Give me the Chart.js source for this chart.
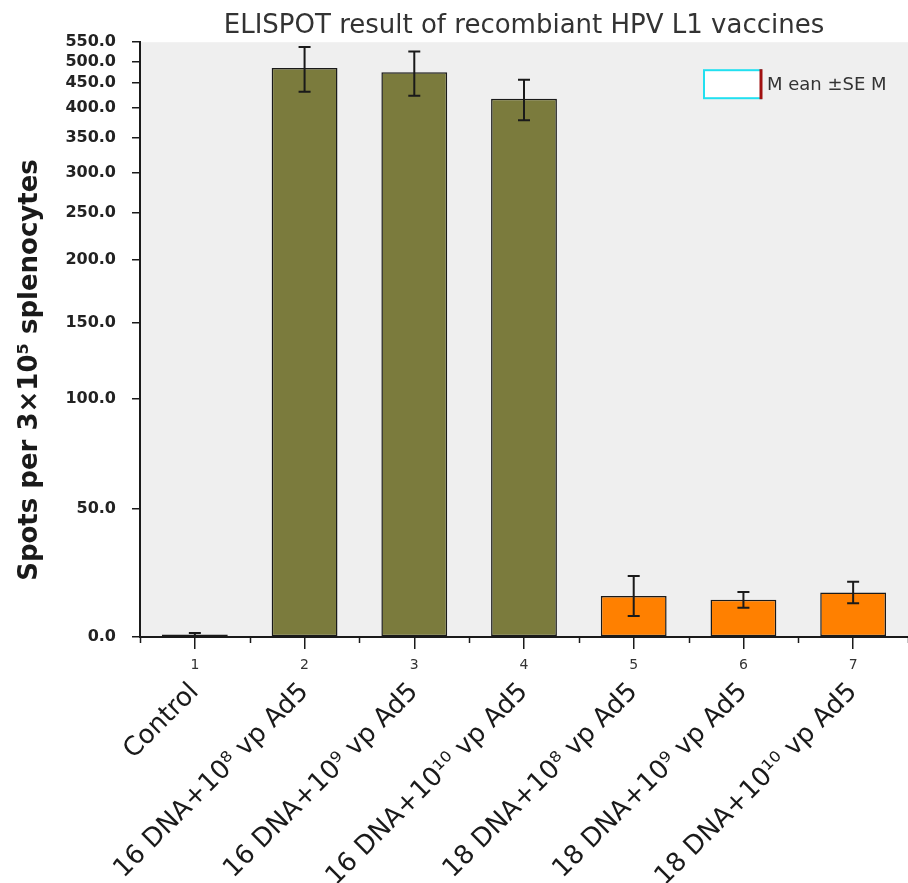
<!DOCTYPE html>
<html>
<head>
<meta charset="utf-8">
<script src="https://cdn.jsdelivr.net/npm/chart.js@4.4.1/dist/chart.umd.min.js"></script>
<style>
  html, body { margin: 0; padding: 0; background: #ffffff; }
  #wrap { width: 908px; height: 883px; }
</style>
</head>
<body>
<div id="wrap"><canvas id="c" width="908" height="883"></canvas></div>
<script>
// ---------- data ----------
const groupNames = ['Control', '16 DNA+10⁸ vp Ad5', '16 DNA+10⁹ vp Ad5', '16 DNA+10¹⁰ vp Ad5',
                    '18 DNA+10⁸ vp Ad5', '18 DNA+10⁹ vp Ad5', '18 DNA+10¹⁰ vp Ad5'];
const groupNumbers = ['1', '2', '3', '4', '5', '6', '7'];
const groupType = ['Control', 'HPV16', 'HPV16', 'HPV16', 'HPV18', 'HPV18', 'HPV18'];
const meanSpots = [1.0, 485, 475, 418, 16, 14.5, 17.4];
const semSpots = [0.6, 53, 51, 39, 7.8, 3.1, 4.2];
const yTickValues = [0, 50, 100, 150, 200, 250, 300, 350, 400, 450, 500, 550];
const chartTitle = 'ELISPOT result of recombiant HPV L1 vaccines';
const yAxisTitle = 'Spots per 3×10⁵ splenocytes';
const legendText = 'M ean ±SE M';

// ---------- styles ----------
const groupColors = { Control: '#7b7b3d', HPV16: '#7b7b3d', HPV18: '#ff8000' };
const inkColor = '#1a1a1a';

// ---------- non-linear (segmented) value axis, as in the original figure ----------
class SegmentedScale extends Chart.LinearScale {
  static id = 'segmented';
  static defaults = {};
  _decimalFor(value) {
    const seg = this.options.segments;
    const stops = seg.stops, w = seg.weights;
    let total = 0;
    for (let i = 0; i < w.length; i++) total += w[i];
    if (value <= stops[0]) return (value - stops[0]) / (stops[1] - stops[0]) * w[0] / total;
    let acc = 0;
    for (let i = 0; i < w.length; i++) {
      const a = stops[i], b = stops[i + 1];
      if (value <= b || i === w.length - 1) return (acc + (value - a) / (b - a) * w[i]) / total;
      acc += w[i];
    }
    return 1;
  }
  getPixelForValue(value) {
    if (value === null || value === undefined || isNaN(value)) return NaN;
    return this.getPixelForDecimal(this._decimalFor(+value));
  }
  getValueForPixel(pixel) {
    const d = this.getDecimalForPixel(pixel);
    const seg = this.options.segments;
    const stops = seg.stops, w = seg.weights;
    let total = 0;
    for (let i = 0; i < w.length; i++) total += w[i];
    let acc = 0;
    for (let i = 0; i < w.length; i++) {
      const f0 = acc / total, f1 = (acc + w[i]) / total;
      if (d <= f1 || i === w.length - 1) return stops[i] + (d - f0) / (f1 - f0) * (stops[i + 1] - stops[i]);
      acc += w[i];
    }
    return stops[stops.length - 1];
  }
}
Chart.register(SegmentedScale);

// ---------- plugins ----------
const backgroundPlugin = {
  id: 'plotBackground',
  beforeDraw(chart) {
    const { ctx, chartArea: a } = chart;
    ctx.save();
    ctx.fillStyle = '#ffffff';
    ctx.fillRect(0, 0, chart.width, chart.height);
    ctx.fillStyle = '#efefef';
    ctx.fillRect(a.left, a.top, a.right - a.left, a.bottom - a.top);
    ctx.restore();
  }
};

const errorBarPlugin = {
  id: 'errorBars',
  afterDatasetsDraw(chart) {
    const { ctx } = chart;
    const y = chart.scales.y;
    const meta = chart.getDatasetMeta(0);
    ctx.save();
    ctx.strokeStyle = inkColor;
    ctx.lineWidth = 2;
    meta.data.forEach((bar, i) => {
      const top = y.getPixelForValue(meanSpots[i] + semSpots[i]);
      const bot = y.getPixelForValue(Math.max(0, meanSpots[i] - semSpots[i]));
      const x = bar.x;
      const cap = 6;
      ctx.beginPath();
      ctx.moveTo(x, top); ctx.lineTo(x, bot);
      ctx.moveTo(x - cap, top); ctx.lineTo(x + cap, top);
      ctx.moveTo(x - cap, bot); ctx.lineTo(x + cap, bot);
      ctx.stroke();
    });
    ctx.restore();
  }
};

const decorPlugin = {
  id: 'decor',
  afterDraw(chart) {
    const { ctx, chartArea: a } = chart;
    const xs = chart.scales.x;
    // minor ticks at category boundaries
    ctx.save();
    ctx.strokeStyle = inkColor;
    ctx.lineWidth = 1.5;
    for (let i = 0; i <= groupNumbers.length; i++) {
      const px = Math.round(xs.getPixelForValue(i - 0.5)) + 0.5;
      ctx.beginPath();
      ctx.moveTo(px, a.bottom);
      ctx.lineTo(px, a.bottom + 6);
      ctx.stroke();
    }
    // rotated y-axis title
    ctx.translate(30, 370);
    ctx.rotate(-Math.PI / 2);
    ctx.font = 'bold 26px "DejaVu Sans"';
    ctx.fillStyle = inkColor;
    ctx.textAlign = 'center';
    ctx.textBaseline = 'middle';
    ctx.fillText(yAxisTitle, 0, 0);
    ctx.restore();

    // legend (Mean ± SEM)
    ctx.save();
    const lx = a.right - 204, ly = a.top + 28, lw = 57, lh = 28;
    ctx.fillStyle = '#ffffff';
    ctx.fillRect(lx, ly, lw, lh);
    ctx.strokeStyle = '#22e0f0';
    ctx.lineWidth = 2;
    ctx.strokeRect(lx, ly, lw, lh);
    ctx.strokeStyle = '#a01010';
    ctx.lineWidth = 3;
    ctx.beginPath();
    ctx.moveTo(lx + lw, ly - 1);
    ctx.lineTo(lx + lw, ly + lh + 1);
    ctx.stroke();
    ctx.fillStyle = '#333333';
    ctx.font = '18px "DejaVu Sans"';
    ctx.textAlign = 'left';
    ctx.textBaseline = 'middle';
    ctx.fillText(legendText, lx + lw + 6, ly + lh / 2 + 1);
    ctx.restore();
  }
};

// ---------- chart ----------
new Chart(document.getElementById('c'), {
  type: 'bar',
  data: {
    labels: groupNumbers,
    datasets: [{
      label: legendText,
      data: meanSpots,
      backgroundColor: (c) => groupColors[groupType[c.dataIndex]],
      borderColor: inkColor,
      borderWidth: 1.5,
      borderSkipped: false,
      barPercentage: 0.6,
      categoryPercentage: 1.0
    }]
  },
  options: {
    responsive: false,
    animation: false,
    devicePixelRatio: 1,
    layout: { padding: { left: 0, right: 0, top: 0, bottom: 0 } },
    plugins: {
      legend: { display: false },
      tooltip: { enabled: false },
      title: {
        display: true,
        text: chartTitle,
        fullSize: false,
        color: '#333333',
        font: { family: 'DejaVu Sans', size: 26, weight: 'normal', lineHeight: 1.2 },
        padding: { top: 11, bottom: 0 }
      }
    },
    scales: {
      x: {
        type: 'category',
        axis: 'x',
        labels: groupNumbers,
        position: 'bottom',
        weight: 0,
        offset: true,
        grid: { display: true, drawOnChartArea: false, drawTicks: true, tickLength: 12, offset: false, color: inkColor, lineWidth: 1.5 },
        border: { display: true, color: inkColor, width: 2 },
        ticks: { font: { family: 'DejaVu Sans', size: 14 }, color: '#333333', padding: 8, maxRotation: 0, minRotation: 0, autoSkip: false },
        afterFit: (s) => { s.height = 40; s.paddingLeft = 0; s.paddingRight = 0; }
      },
      names: {
        type: 'category',
        axis: 'x',
        labels: groupNames,
        position: 'bottom',
        weight: 1,
        offset: true,
        grid: { display: false, drawTicks: false },
        border: { display: false },
        ticks: { font: { family: 'DejaVu Sans', size: 26 }, color: inkColor, minRotation: 45, maxRotation: 45, autoSkip: false, padding: 0 },
        afterFit: (s) => { s.height = 206; s.paddingLeft = 0; s.paddingRight = 0; }
      },
      y: {
        type: 'segmented',
        axis: 'y',
        position: 'left',
        min: 0,
        max: 550,
        segments: { stops: yTickValues, weights: [128, 110, 76, 63, 47, 40, 35, 30, 25, 21, 19.5] },
        afterBuildTicks: (s) => { s.ticks = yTickValues.map(v => ({ value: v })); },
        grid: { display: true, drawOnChartArea: false, drawTicks: true, tickLength: 8, color: inkColor, lineWidth: 1.5 },
        border: { display: true, color: inkColor, width: 2 },
        ticks: {
          font: { family: 'DejaVu Sans', size: 16, weight: 'bold' },
          color: '#222222',
          padding: 16,
          autoSkip: false,
          callback: (v) => Number(v).toFixed(1)
        },
        afterFit: (s) => { s.width = 140; }
      }
    }
  },
  plugins: [backgroundPlugin, errorBarPlugin, decorPlugin]
});
</script>
</body>
</html>
